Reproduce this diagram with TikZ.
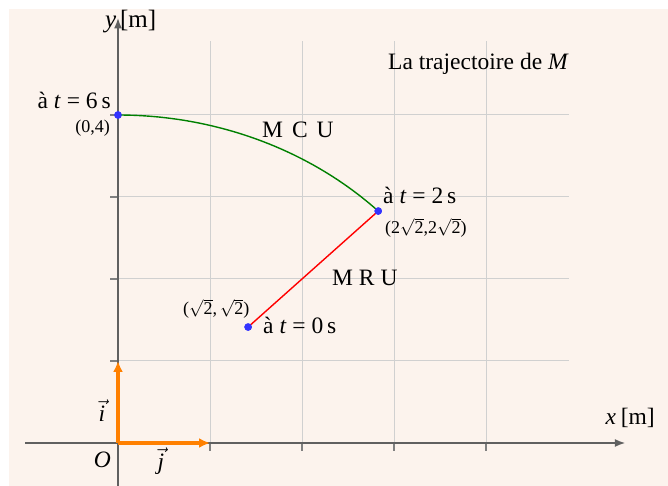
\documentclass[tikz,border=0pt]{standalone}
\usepackage{fontspec}
\setmainfont{Liberation Serif}
\usetikzlibrary{arrows.meta}
\definecolor{bgc}{RGB}{252,243,237}
\definecolor{axc}{RGB}{96,96,96}
\definecolor{tickc}{RGB}{128,128,128}
\definecolor{gridc}{RGB}{208,208,208}
\definecolor{vecc}{RGB}{255,128,0}
\definecolor{dotc}{RGB}{51,51,255}
\definecolor{arcc}{RGB}{0,128,0}
\tikzset{
  axis/.style={draw=axc, line width=2.2pt, -{Latex[length=11pt,width=8pt]}},
  tickmark/.style={draw=tickc, line width=2.2pt},
  gridline/.style={draw=gridc, line width=1pt},
  unitvec/.style={draw=vecc, line width=3.5pt, -{Latex[length=11pt,width=10pt]}},
  dot/.style={circle, fill=dotc, inner sep=0pt, minimum size=7.5pt},
  big/.style={font=\fontsize{23.5}{28}\selectfont, inner sep=0pt},
  axlab/.style={font=\fontsize{25}{30}\selectfont, inner sep=0pt},
  small/.style={font=\fontsize{18}{22}\selectfont, inner sep=0pt},
}
\begin{document}
\begin{tikzpicture}[x=92pt,y=82pt]
\useasboundingbox (-118pt,-43pt) rectangle (550pt,443pt);
\fill[bgc] (-109pt,-43pt) rectangle (550pt,434pt);
% grid
\foreach \i in {1,2,3,4} {
  \draw[gridline] (\i,0) -- (\i,4.9);
  \draw[gridline] (0,\i) -- (4.9,\i);
}
% ticks
\foreach \i in {1,2,3,4} {
  \draw[tickmark] (\i,0) -- ++(0,-8pt);
  \draw[tickmark] (0,\i) -- ++(-8pt,0);
}
% axes
\coordinate (xs) at (-1.01,0);
\coordinate (xe) at (5.52,0);
\coordinate (ys) at (0,-43pt);
\coordinate (ye) at (0,5.19);
\draw[axis] (xs) -- (xe);
\draw[axis] (ys) -- (ye);
% unit vectors
\coordinate (O) at (0,0);
\coordinate (ui) at (0,1);
\coordinate (uj) at (1,0);
\draw[unitvec] (O) -- (ui);
\draw[unitvec] (O) -- (uj);
% trajectory
\node[dot] (A) at ({sqrt(2)},{sqrt(2)}) {};
\node[dot] (B) at ({2*sqrt(2)},{2*sqrt(2)}) {};
\node[dot] (C) at (0,4) {};
\draw[red, line width=1.4pt] (A.center) -- (B.center);
\draw[arcc, line width=1.4pt] plot[domain=45:90, samples=60, smooth] ({4*cos(\x)},{4*sin(\x)});
\node[dot] at (A) {};
\node[dot] at (B) {};
\node[dot] at (C) {};
% labels
\node[axlab, anchor=base west] (ylab) at (-13pt,415pt) {\textit{y}\hspace{0.15em}[m]};
\node[big, anchor=base east] (xlab) at (537pt,18pt) {\textit{x}\hspace{0.2em}[m]};
\node[big, anchor=base west] (title) at (270pt,373pt) {La trajectoire de \textit{M}};
\node[big, anchor=base east] (l6) at (-7pt,334pt) {à \textit{t} = 6\,s};
\node[small, anchor=base east] (p6) at (-8pt,310pt) {(0,4)};
\node[big, anchor=base west] (l2) at (265pt,239pt) {à \textit{t} = 2\,s};
\node[small, anchor=base west] (p2) at (267pt,209pt) {(2$\sqrt{\mbox{2}}$,2$\sqrt{\mbox{2}}$)};
\node[small, anchor=base west] (p0) at (65pt,128pt) {($\sqrt{\mbox{2}}$,\,$\sqrt{\mbox{2}}$)};
\node[big, anchor=base west] (l0) at (145pt,109pt) {à \textit{t} = 0\,s};
\node[big, anchor=base west] (mcu) at (144pt,305pt) {M\hspace{0.38em}C\hspace{0.38em}U};
\node[big, anchor=base west] (mru) at (214pt,157pt) {M R U};
\node[big, anchor=base east] (olab) at (-7pt,-25pt) {\textit{O}};
\node[big, anchor=base] (ilab) at (-16pt,21pt) {$\vec{\mbox{\textit{i}}}$};
\node[big, anchor=base] (jlab) at (43pt,-27pt) {$\vec{\mbox{\textit{j}}}$};
\end{tikzpicture}
\end{document}
